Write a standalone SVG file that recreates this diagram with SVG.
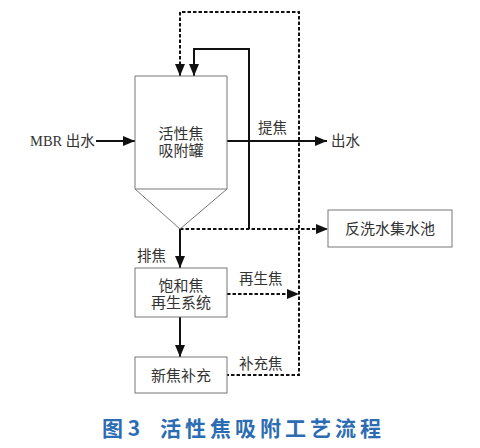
<svg xmlns="http://www.w3.org/2000/svg" width="480" height="448" viewBox="0 0 480 448">
<style>
.box{fill:#fff;stroke:#777;stroke-width:1}
.t{font-family:"Liberation Serif","Noto Sans CJK SC",serif;font-size:15px;fill:#333;text-anchor:middle}
.lb{font-family:"Liberation Serif","Noto Sans CJK SC",serif;font-size:14.5px;fill:#333}
.s{fill:none;stroke:#111;stroke-width:2}
.d{fill:none;stroke:#111;stroke-width:2;stroke-dasharray:3.5 2}
.cap{font-family:"Noto Sans CJK SC",sans-serif;font-size:21px;font-weight:bold;fill:#2b6cb3}
</style>
<defs>
<marker id="ah" viewBox="0 0 12 10" refX="12" refY="5" markerWidth="12" markerHeight="10" markerUnits="userSpaceOnUse" orient="auto-start-reverse">
<path d="M0,0 L12,5 L0,10 Z" fill="#111"/>
</marker>
</defs>
<rect width="480" height="448" fill="#fff"/>
<g id="connectors">
<path class="d" d="M180,76 V12 H299 V375 H227" marker-start="url(#ah)"/>
<path class="s" d="M249,229 V49 H194 V76" marker-end="url(#ah)"/>
<path class="s" d="M96,141 H135" marker-end="url(#ah)"/>
<path class="s" d="M227,141 H327" marker-end="url(#ah)"/>
<path class="d" d="M180,229 H328" marker-end="url(#ah)"/>
<path class="s" d="M180,229 V268" marker-end="url(#ah)"/>
<path class="d" d="M227,294 H299" marker-end="url(#ah)"/>
<path class="s" d="M180,317 V357" marker-end="url(#ah)"/>
<text class="lb" x="258" y="133">提焦</text>
<text class="lb" x="137" y="261">排焦</text>
<text class="lb" x="239" y="284">再生焦</text>
<text class="lb" x="239" y="369">补充焦</text>
</g>
<g id="tank">
<path class="box" d="M135,76 H227 V189 L180,229 L135,189 Z"/>
<line x1="135" y1="189" x2="227" y2="189" stroke="#777" stroke-width="1"/>
<text class="t" x="181" y="139">活性焦</text>
<text class="t" x="181" y="156">吸附罐</text>
</g>
<g id="mbr">
<text class="lb" x="30" y="146">MBR 出水</text>
</g>
<g id="out">
<text class="lb" x="331" y="146">出水</text>
</g>
<g id="backwash">
<rect class="box" x="328" y="210" width="124" height="37"/>
<text class="t" x="390" y="234">反洗水集水池</text>
</g>
<g id="regen">
<rect class="box" x="135" y="268" width="92" height="49"/>
<text class="t" x="181" y="291">饱和焦</text>
<text class="t" x="181" y="308">再生系统</text>
</g>
<g id="newcoke">
<rect class="box" x="135" y="357" width="92" height="36"/>
<text class="t" x="181" y="381">新焦补充</text>
</g>
<g id="caption">
<text class="cap" x="102" y="436">图 3</text>
<text class="cap" x="160" y="436" letter-spacing="4">活性焦吸附工艺流程</text>
</g>
</svg>
